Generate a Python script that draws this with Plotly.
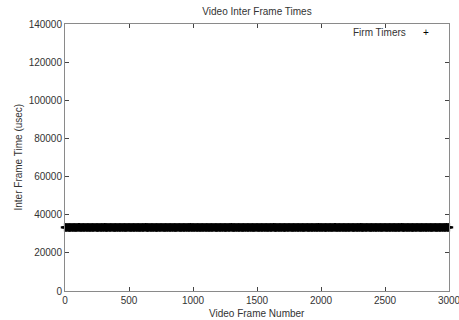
import plotly.graph_objects as go

# Frame numbers (sampled every 10 frames) and inter-frame times (usec)
frame_step = 10
inter_frame_usec = [
    33340, 33310, 33360, 33290, 33330, 33380, 33300, 33350, 33320, 33270,
    33340, 33390, 33310, 33330, 33360, 33280, 33340, 33320, 33370, 33300,
    33330, 33350, 33290, 33340, 33380, 33310, 33330, 33360, 33300, 33340,
    33320, 33390, 33280, 33330, 33350, 33310, 33360, 33340, 33300, 33330,
    33370, 33290, 33340, 33320, 33350, 33310, 33380, 33330, 33300, 33340,
    33360, 33320, 33290, 33350, 33330, 33370, 33310, 33340, 33300, 33330,
    33360, 33280, 33340, 33390, 33310, 33330, 33350, 33300, 33340, 33320,
    33370, 33290, 33330, 33350, 33310, 33360, 33340, 33300, 33330, 33380,
    33320, 33340, 33290, 33350, 33310, 33360, 33330, 33300, 33340, 33370,
    33320, 33280, 33350, 33330, 33360, 33310, 33340, 33300, 33390, 33330,
    33350, 33290, 33340, 33320, 33370, 33310, 33330, 33360, 33300, 33340,
    33320, 33350, 33280, 33330, 33380, 33310, 33340, 33360, 33300, 33330,
    33350, 33290, 33340, 33320, 33370, 33310, 33330, 33360, 33300, 33340,
    33390, 33320, 33280, 33350, 33330, 33360, 33310, 33340, 33300, 33330,
    33370, 33290, 33340, 33320, 33350, 33310, 33380, 33330, 33300, 33340,
    33360, 33320, 33290, 33350, 33330, 33370, 33310, 33340, 33300, 33330,
    33360, 33280, 33340, 33390, 33310, 33330, 33350, 33300, 33340, 33320,
    33370, 33290, 33330, 33350, 33310, 33360, 33340, 33300, 33330, 33380,
    33320, 33340, 33290, 33350, 33310, 33360, 33330, 33300, 33340, 33370,
    33320, 33280, 33350, 33330, 33360, 33310, 33340, 33300, 33390, 33330,
    33340, 33310, 33360, 33290, 33330, 33380, 33300, 33350, 33320, 33270,
    33340, 33390, 33310, 33330, 33360, 33280, 33340, 33320, 33370, 33300,
    33330, 33350, 33290, 33340, 33380, 33310, 33330, 33360, 33300, 33340,
    33320, 33390, 33280, 33330, 33350, 33310, 33360, 33340, 33300, 33330,
    33370, 33290, 33340, 33320, 33350, 33310, 33380, 33330, 33300, 33340,
    33360, 33320, 33290, 33350, 33330, 33370, 33310, 33340, 33300, 33330,
    33360, 33280, 33340, 33390, 33310, 33330, 33350, 33300, 33340, 33320,
    33370, 33290, 33330, 33350, 33310, 33360, 33340, 33300, 33330, 33380,
    33320, 33340, 33290, 33350, 33310, 33360, 33330, 33300, 33340, 33370,
    33320, 33280, 33350, 33330, 33360, 33310, 33340, 33300, 33390, 33330,
    33340,
]
frames = [i * frame_step for i in range(len(inter_frame_usec))]

series_name = "Firm Timers"
title_text = "Video Inter Frame Times"
x_title = "Video Frame Number"
y_title = "Inter Frame Time (usec)"
x_ticks = [0, 500, 1000, 1500, 2000, 2500, 3000]
y_ticks = [0, 20000, 40000, 60000, 80000, 100000, 120000, 140000]

FONT = "Liberation Sans, Arial, sans-serif"
AXIS_COLOR = "#8a8a8a"
TEXT_COLOR = "#333"

L, R, T, B = 65, 449, 24, 291
W, H = 459, 320

fig = go.Figure()
fig.add_trace(go.Scatter(
    x=frames, y=inter_frame_usec, mode="markers", name=series_name,
    marker=dict(symbol="cross-thin", size=6, color="black",
                line=dict(width=2.2, color="black")),
    cliponaxis=False, showlegend=False, hoverinfo="skip",
))

axis_common = dict(
    showgrid=False, zeroline=False, showline=True, linecolor=AXIS_COLOR,
    linewidth=1, mirror="ticks", ticks="inside", ticklen=4,
    tickcolor="#444", tickwidth=1, automargin=False,
    ticklabeloverflow="allow",
    tickfont=dict(family=FONT, size=10, color=TEXT_COLOR),
)

fig.update_layout(
    width=W, height=H,
    margin=dict(l=L, r=W - R, t=T, b=H - B),
    paper_bgcolor="white", plot_bgcolor="white",
    font=dict(family=FONT, size=10, color=TEXT_COLOR),
    title=dict(text=title_text, x=(L + R) / 2 / W, xanchor="center",
               y=1 - 11 / H, yanchor="middle",
               font=dict(family=FONT, size=10, color=TEXT_COLOR)),
    xaxis=dict(range=[0, 3000], tickvals=x_ticks,
               ticktext=[str(v) for v in x_ticks], **axis_common),
    yaxis=dict(range=[0, 140000], tickvals=y_ticks,
               ticktext=[str(v) for v in y_ticks], **axis_common),
)

pw, ph = R - L, B - T
# axis titles
fig.add_annotation(text=x_title, xref="paper", yref="paper",
                   x=0.5, y=-(313 - B) / ph, xanchor="center", yanchor="middle",
                   showarrow=False, font=dict(family=FONT, size=10, color=TEXT_COLOR))
fig.add_annotation(text=y_title, xref="paper", yref="paper",
                   x=-(L - 18) / pw, y=0.5, xanchor="center", yanchor="middle",
                   textangle=-90, showarrow=False,
                   font=dict(family=FONT, size=10, color=TEXT_COLOR))
# legend
fig.add_annotation(text=series_name, xref="paper", yref="paper",
                   x=(408 - L) / pw, y=(B - 33) / ph,
                   xanchor="right", yanchor="middle", showarrow=False,
                   font=dict(family=FONT, size=10, color=TEXT_COLOR))
fig.add_annotation(text="+", xref="paper", yref="paper",
                   x=(426 - L) / pw, y=(B - 33) / ph,
                   xanchor="center", yanchor="middle", showarrow=False,
                   font=dict(family=FONT, size=10, color="black"))

fig.write_html("out.html", config={"displayModeBar": False},
               post_script="document.body.style.margin='0';document.body.style.overflow='hidden';")
